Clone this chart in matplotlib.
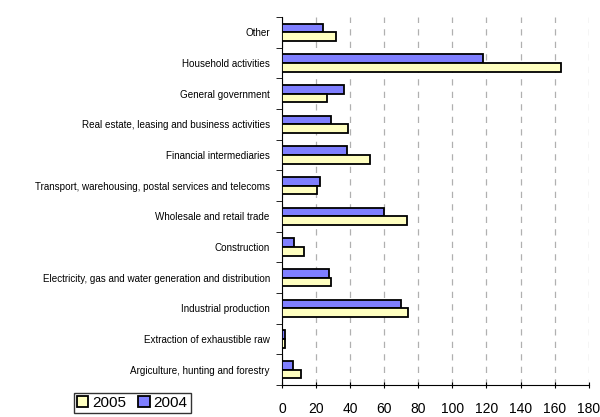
import numpy as np
import matplotlib.pyplot as plt
from matplotlib.ticker import FixedLocator

plt.rcParams['font.family'] = ['Liberation Sans', 'DejaVu Sans']

# Categories listed bottom to top
categories = ['Argiculture, hunting and forestry',
              'Extraction of exhaustible raw',
              'Industrial production',
              'Electricity, gas and water generation and distribution',
              'Construction',
              'Wholesale and retail trade',
              'Transport, warehousing, postal services and telecoms',
              'Financial intermediaries',
              'Real estate, leasing and business activities',
              'General government',
              'Household activities',
              'Other']

values_2004 = [6.5, 1.8, 69.9, 27.6, 6.9, 59.8, 22.1, 38.2, 28.4, 36.4, 117.7, 24.1]
values_2005 = [11.2, 1.8, 74.0, 28.6, 12.6, 73.3, 20.6, 51.5, 38.6, 26.4, 163.7, 31.5]

fig = plt.figure(figsize=(6, 4.17), dpi=100)
ax = fig.add_axes([0.4705, 0.0767, 0.5105, 0.8825])

y = np.arange(len(categories))
h = 0.28
ax.barh(y + h / 2, values_2004, height=h, color='#7f7fff', edgecolor='black',
        linewidth=1.3, label='2004', zorder=3)
ax.barh(y - h / 2, values_2005, height=h, color='#ffffc0', edgecolor='black',
        linewidth=1.3, label='2005', zorder=3)

ax.set_xlim(0, 180)
ax.set_ylim(-0.5, len(categories) - 0.5)
ax.set_xticks(np.arange(0, 181, 20))
ax.tick_params(axis='x', labelsize=10, length=5, direction='inout', pad=10)

ax.set_yticks(y)
ax.set_yticklabels(categories, fontsize=7.1)
ax.tick_params(axis='y', which='major', length=0, pad=9)
ax.yaxis.set_minor_locator(FixedLocator(np.arange(-0.5, len(categories), 1)))
ax.tick_params(axis='y', which='minor', length=4, direction='out')

ax.grid(axis='x', color='#b0b0b0', linestyle=(0, (5, 5)), linewidth=0.9, zorder=0)
ax.spines['top'].set_visible(False)
ax.spines['right'].set_visible(False)

# legend order: 2005 first, then 2004
handles, labels = ax.get_legend_handles_labels()
fig.legend(handles[::-1], labels[::-1], loc='upper left',
           bbox_to_anchor=(0.123, 0.058), ncol=2, fontsize=11, frameon=True,
           fancybox=False, edgecolor='black', handlelength=0.75,
           handleheight=0.75, handletextpad=0.25, columnspacing=0.8,
           borderpad=0.2, borderaxespad=0)

plt.savefig('out.png', dpi=100)
